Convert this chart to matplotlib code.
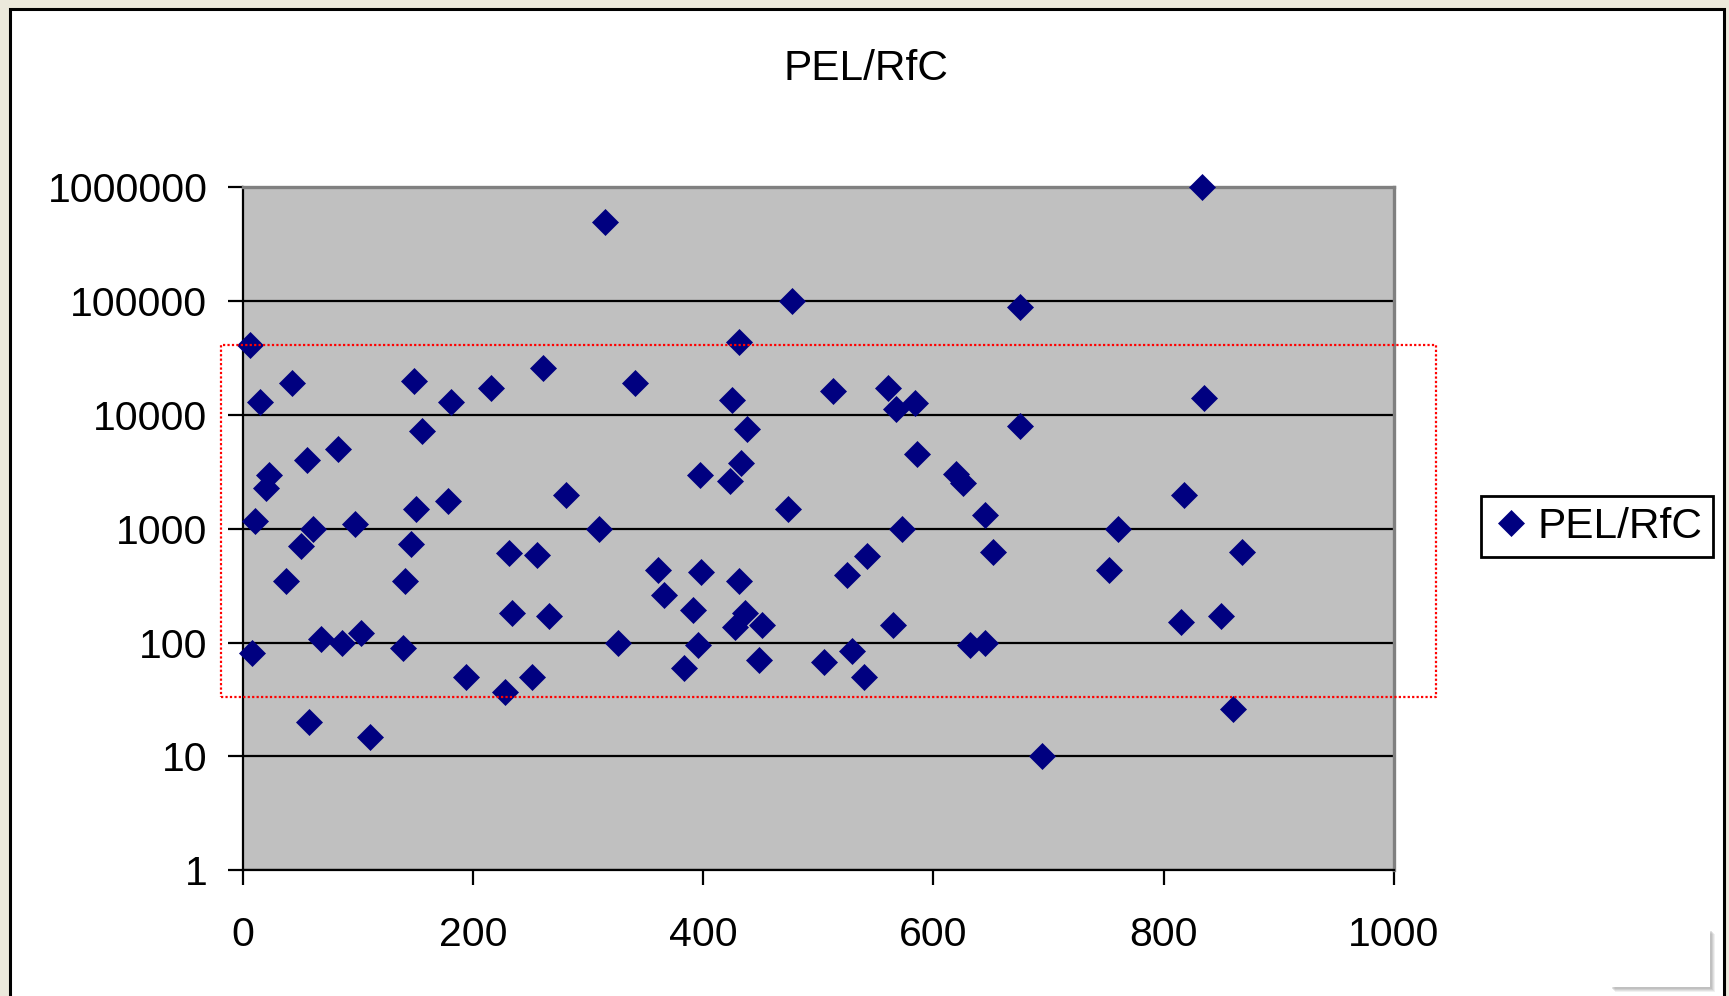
import matplotlib
matplotlib.use("Agg")
import matplotlib.pyplot as plt
from matplotlib.patches import Rectangle

plt.rcParams['font.family'] = ['Liberation Sans', 'DejaVu Sans']

# ---- data ----
x_vals = [6, 15, 23, 20, 11, 8, 43, 56, 61, 51, 38, 68, 58, 83, 98, 86, 103, 111,
          149, 156, 151, 146, 141, 139, 181, 178, 194, 216, 231, 234, 228, 251, 256,
          266, 261, 281, 315, 310, 326, 341, 361, 366, 391, 383, 397, 398, 396, 425,
          431, 423, 433, 438, 431, 436, 428, 451, 449, 477, 474, 513, 505, 525, 529,
          542, 540, 561, 568, 584, 573, 586, 565, 620, 626, 645, 652, 632, 645, 675,
          675, 694, 753, 760, 833, 835, 818, 815, 850, 860, 868]
y_vals = [41000, 12900, 2950, 2260, 1180, 81, 19200, 4040, 1000, 710, 346, 107, 20,
          5050, 1110, 100, 120, 14.9, 20100, 7200, 1480, 740, 346, 90, 12900, 1770, 50,
          17200, 615, 183, 37, 50, 590, 172, 25700, 1980, 500000, 1000, 100, 19200, 433,
          260, 195, 60, 2950, 414, 95, 13500, 44000, 2630, 3780, 7500, 346, 183, 136,
          142, 70, 100000, 1480, 16100, 67, 390, 85, 580, 50, 17200, 11300, 12800, 1000,
          4500, 142, 3000, 2520, 1320, 620, 96, 100, 89000, 8000, 10, 433, 1000,
          1000000, 14200, 1990, 152, 172, 26, 620]
series_name = "PEL/RfC"
title_text = "PEL/RfC"
x_ticks = [0, 200, 400, 600, 800, 1000]
y_ticks = [1, 10, 100, 1000, 10000, 100000, 1000000]
y_tick_labels = ["1", "10", "100", "1000", "10000", "100000", "1000000"]
# highlighted band (red dotted box), data coords
box_x = [-19, 1037]
box_y = [33, 41000]

W, H = 1729, 996
fig = plt.figure(figsize=(W / 100, H / 100), dpi=100, facecolor='#ECE9DC')

# chart frame (white with black border)
fig.add_artist(Rectangle((9.5 / W, -0.05), (1723.5 - 9.5) / W, 1 - 8.5 / H + 0.05,
                         transform=fig.transFigure, facecolor='white',
                         edgecolor='black', lw=2.2, zorder=0))

ax = fig.add_axes([242.6 / W, 1 - 870 / H, (1393.8 - 242.6) / W, (870 - 187.5) / H])
ax.set_facecolor('#C0C0C0')
ax.set_yscale('log')
ax.set_xlim(0, 1000)
ax.set_ylim(1, 1e6)
ax.set_xticks(x_ticks)
ax.set_xticklabels([str(v) for v in x_ticks])
ax.set_yticks(y_ticks)
ax.set_yticklabels(y_tick_labels)
ax.yaxis.set_minor_locator(matplotlib.ticker.NullLocator())
ax.set_axisbelow(True)
ax.yaxis.grid(True, color='black', lw=1.6)
ax.xaxis.grid(False)

for s in ['left', 'bottom']:
    ax.spines[s].set_color('black')
    ax.spines[s].set_linewidth(1.6)
for s in ['top', 'right']:
    ax.spines[s].set_color('#808080')
    ax.spines[s].set_linewidth(2.4)

ax.tick_params(axis='both', direction='out', length=10.8, width=1.6, colors='black',
               labelsize=29.5)
ax.tick_params(axis='y', pad=14.5)
ax.tick_params(axis='x', pad=22)

ax.plot(x_vals, y_vals, linestyle='none', marker='D', markersize=13,
        markerfacecolor='#000080', markeredgecolor='#000080', markeredgewidth=0.5,
        clip_on=False, zorder=4, label=series_name)

# red dotted highlight box
ax.plot([box_x[0], box_x[1], box_x[1], box_x[0], box_x[0]],
        [box_y[0], box_y[0], box_y[1], box_y[1], box_y[0]],
        color='red', lw=1.6, linestyle=(0, (1, 1)), clip_on=False, zorder=5)

fig.text(866 / W, 1 - 80 / H, title_text, ha='center', va='baseline', fontsize=30.5)

leg = ax.legend(loc='center', bbox_to_anchor=(1596.9 / W, 1 - 526.5 / H),
                bbox_transform=fig.transFigure, frameon=True, fancybox=False,
                edgecolor='black', framealpha=1, fontsize=30.5, numpoints=1,
                handlelength=0.9, handletextpad=0.18, borderpad=0.25,
                borderaxespad=0)
leg.get_frame().set_linewidth(2)

# small white box with soft shadow in the lower right corner
for off, a in [(5, 0.15), (4, 0.2), (3, 0.25), (2, 0.3)]:
    fig.add_artist(Rectangle(((1610 + off) / W, 1 - (987 + off) / H), 100 / W, 58 / H,
                             transform=fig.transFigure, facecolor='#A0A0A0',
                             edgecolor='none', alpha=a, zorder=1))
fig.add_artist(Rectangle((1610 / W, 1 - 987 / H), 100 / W, 58 / H,
                         transform=fig.transFigure, facecolor='white',
                         edgecolor='none', zorder=2))

fig.savefig('out.png', dpi=100, facecolor=fig.get_facecolor())
